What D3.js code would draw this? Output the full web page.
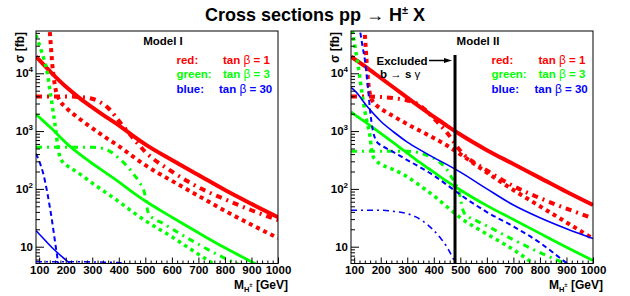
<!DOCTYPE html>
<html>
<head>
<meta charset="utf-8">
<script src="https://cdn.jsdelivr.net/npm/d3@7"></script>
<style>
  body { margin: 0; background: #fff; }
  svg { display: block; font-family: "Liberation Sans", Arial, Helvetica, sans-serif; }
</style>
</head>
<body>
<svg id="chart" width="630" height="296"></svg>
<script>
// masses in GeV, cross sections in fb
const massGrid = [88, 100, 150, 200, 250, 300, 350, 400, 450, 500, 600, 700, 800, 900, 1000];

// ---- Model I ----
const m1RedSolid   = [19500, 17000, 9770, 5890, 3800, 2570, 1780, 1260, 851, 589, 316, 174, 95.5, 55, 32.4];
const m1GreenSolid = [1950, 1740, 1072, 631, 407, 275, 191, 132, 89.1, 61.7, 32.4, 17.4, 9.55, 5.5, 3.24];
const m1BlueSolidMass = [88, 100, 150, 200, 250, 300];
const m1BlueSolid     = [19, 16.6, 9.5, 5.9, 3.8, 2.6];

const m1RedDotMass = [138, 142, 146, 150, 155, 160, 165, 170, 180, 200, 250, 300, 350, 400, 450, 500, 600, 700, 800, 900, 1000];
const m1RedDot     = [70800, 39800, 22400, 13200, 8320, 5890, 4570, 3980, 3240, 2570, 1660, 1120, 776, 550, 372, 257, 138, 75.9, 41.7, 24, 14.1];

const m1RedDashDotMass = [88, 150, 200, 250, 300, 330, 360, 400, 450, 500, 600, 700, 800, 900, 1000];
const m1RedDashDot     = [3980, 3980, 3980, 3890, 3630, 3160, 2510, 1510, 794, 437, 200, 107, 66, 42.7, 28.8];

const m1GreenDotMass = [88, 100, 110, 120, 130, 140, 150, 160, 165, 170, 175, 180, 190, 200, 250, 300, 350, 400, 450, 500, 600, 700, 800];
const m1GreenDot     = [45700, 31600, 22900, 16200, 10500, 5250, 2630, 1260, 832, 550, 407, 339, 288, 263, 186, 126, 87.1, 60.3, 40.7, 28.2, 14.8, 7.4, 3.8];

const m1GreenDashDotMass = [88, 200, 300, 340, 370, 400, 430, 460, 480, 495, 502, 508, 515, 530, 560, 600, 700, 800, 900];
const m1GreenDashDot     = [525, 525, 525, 501, 437, 339, 251, 170, 126, 91.2, 66.1, 43.7, 35.5, 30.9, 26.3, 20.4, 11, 6.3, 4];

const m1BlueDashMass = [88, 100, 115, 130, 140, 150, 160, 172, 185];
const m1BlueDash     = [407, 302, 186, 89, 49, 25.1, 12, 5.13, 2.24];

const m1BlueDashDotMass = [88, 200, 300, 400, 430, 460];
const m1BlueDashDot     = [5.5, 5.5, 5.45, 5.3, 4.8, 4];

// ---- Model II ----
const m2RedSolid   = [19500, 17800, 12300, 8300, 5620, 3800, 2570, 1780, 1230, 871, 468, 269, 155, 89, 52.5];
const m2GreenSolid = [2140, 1950, 1350, 912, 617, 417, 282, 195, 135, 95.5, 51.3, 29.5, 17, 9.8, 5.75];
const m2BlueSolid  = [5620, 5130, 2630, 1480, 955, 646, 468, 347, 263, 195, 100, 52.5, 31.6, 20.4, 13.8];

const m2RedDotMass = [138, 142, 146, 150, 155, 160, 165, 170, 180, 200, 250, 300, 350, 400, 450, 500, 600, 700, 800, 900, 1000];
const m2RedDot     = [63100, 35500, 18200, 10000, 5750, 4270, 3630, 3240, 2880, 2450, 1780, 1320, 1000, 759, 562, 398, 191, 95.5, 50.1, 26.3, 13.8];

const m2RedDashDotMass = [88, 150, 200, 250, 300, 330, 360, 400, 450, 500, 600, 700, 800, 900, 1000];
const m2RedDashDot     = [3980, 3980, 3890, 3720, 3390, 3090, 2510, 1660, 933, 457, 209, 112, 69.2, 45.7, 30.9];

const m2GreenDotMass = [88, 100, 110, 120, 130, 140, 150, 160, 165, 170, 180, 200, 250, 300, 350, 400, 450, 500, 600, 700, 800];
const m2GreenDot     = [75900, 35500, 18600, 9330, 4370, 2240, 1320, 794, 501, 380, 316, 269, 214, 162, 112, 75.9, 49, 31.6, 16.6, 8.9, 4.17];

const m2GreenDashDotMass = [88, 200, 300, 340, 380, 420, 450, 470, 485, 495, 502, 508, 515, 530, 560, 600, 700, 800, 900];
const m2GreenDashDot     = [447, 447, 447, 427, 372, 295, 214, 151, 115, 91.2, 63.1, 45.7, 38, 33.1, 28.2, 22.9, 13.2, 7.9, 5];

const m2BlueDashMass = [118, 125, 132, 140, 150, 160, 170, 180, 190, 200, 250, 300, 350, 400, 450, 500, 600, 700, 800, 900, 1000];
const m2BlueDash     = [70800, 44700, 28200, 17400, 7080, 2240, 1050, 724, 617, 575, 427, 316, 234, 170, 117, 79.4, 39.8, 22.4, 11.7, 5.25, 2.51];

const m2BlueDashDotMass = [88, 200, 250, 300, 330, 360, 400, 430, 450, 470, 485, 500];
const m2BlueDashDot     = [42.7, 42.7, 40.7, 37.2, 33.1, 27.5, 19.1, 13.2, 9.8, 6.6, 4.8, 3.2];

const xMajorTicks = [100, 200, 300, 400, 500, 600, 700, 800, 900, 1000];
const yMajorTicks = [10, 100, 1000, 10000];
const yTickExp = ["", "2", "3", "4"];
const bsgLimit = 480;

const lineStyles = {
  redSolid:      { stroke: "#ff0000", width: 4,   dash: null },
  redDot:        { stroke: "#ff0000", width: 4,   dash: "4,4" },
  redDashDot:    { stroke: "#ff0000", width: 4,   dash: "6,5,2,5" },
  greenSolid:    { stroke: "#00ff00", width: 2.8, dash: null },
  greenDot:      { stroke: "#00ff00", width: 3.5, dash: "3.5,4" },
  greenDashDot:  { stroke: "#00ff00", width: 3,   dash: "6,5,2,5" },
  blueSolid:     { stroke: "#0000ff", width: 1.6, dash: null },
  blueDash:      { stroke: "#0000ff", width: 2,   dash: "5,3.5" },
  blueDashDot:   { stroke: "#0000ff", width: 1.6, dash: "6,4,2,4" }
};

const zip = (ms, vs) => ms.map((m, i) => [m, vs[i]]);

const panels = [
  {
    left: 36, title: "Model I", titleX: 163, legendX: 176.5, tanX: 223,
    curves: [
      ["redSolid", zip(massGrid, m1RedSolid)],
      ["redDot", zip(m1RedDotMass, m1RedDot)],
      ["redDashDot", zip(m1RedDashDotMass, m1RedDashDot)],
      ["greenSolid", zip(massGrid, m1GreenSolid)],
      ["greenDot", zip(m1GreenDotMass, m1GreenDot)],
      ["greenDashDot", zip(m1GreenDashDotMass, m1GreenDashDot)],
      ["blueSolid", zip(m1BlueSolidMass, m1BlueSolid)],
      ["blueDash", zip(m1BlueDashMass, m1BlueDash)],
      ["blueDashDot", zip(m1BlueDashDotMass, m1BlueDashDot)]
    ]
  },
  {
    left: 351, title: "Model II", titleX: 478, legendX: 491.5, tanX: 538.5,
    curves: [
      ["redSolid", zip(massGrid, m2RedSolid)],
      ["redDot", zip(m2RedDotMass, m2RedDot)],
      ["redDashDot", zip(m2RedDashDotMass, m2RedDashDot)],
      ["greenSolid", zip(massGrid, m2GreenSolid)],
      ["greenDot", zip(m2GreenDotMass, m2GreenDot)],
      ["greenDashDot", zip(m2GreenDashDotMass, m2GreenDashDot)],
      ["blueSolid", zip(massGrid, m2BlueSolid)],
      ["blueDash", zip(m2BlueDashMass, m2BlueDash)],
      ["blueDashDot", zip(m2BlueDashDotMass, m2BlueDashDot)]
    ],
    excluded: true
  }
];

const W = 242, H = 232.5, TOP = 31;
const svg = d3.select("#chart");

const x = d3.scaleLinear().domain([88, 1000]).range([0, W]);
const y = d3.scaleLog().domain([5.12, 53900]).range([H, 0]);

const line = d3.line()
  .x(d => x(d[0]))
  .y(d => y(d[1]))
  .curve(d3.curveMonotoneX);

// title
const title = svg.append("text")
  .attr("x", 315).attr("y", 20.5)
  .attr("text-anchor", "middle")
  .attr("font-size", 18).attr("font-weight", "bold");
title.append("tspan").text("Cross sections pp ");
title.append("tspan").attr("font-weight", "normal").text("\u2192");
title.append("tspan").text(" H");
title.append("tspan").attr("font-size", 11).attr("dy", -7).text("\u00b1");
title.append("tspan").attr("dy", 7).text(" X");

const yMinor = [];
[1, 10, 100, 1000, 10000].forEach(p => {
  for (let k = 2; k <= 9; k++) {
    const v = k * p;
    if (v > 5.12 && v < 53900) yMinor.push(v);
  }
});
const xMinor = d3.range(120, 1000, 20).filter(v => v % 100 !== 0);

const legendRows = [
  { name: "red:", tan: "1", color: "#ff0000", y: 64 },
  { name: "green:", tan: "3", color: "#00ff00", y: 77.5 },
  { name: "blue:", tan: "30", color: "#0000ff", y: 92.5 }
];

panels.forEach((p, i) => {
  const g = svg.append("g").attr("transform", `translate(${p.left},${TOP})`);

  g.append("clipPath").attr("id", "clip" + i)
    .append("rect").attr("width", W).attr("height", H);

  const plot = g.append("g").attr("clip-path", `url(#clip${i})`);
  p.curves.forEach(([style, data]) => {
    const s = lineStyles[style];
    plot.append("path")
      .datum(data)
      .attr("d", line)
      .attr("fill", "none")
      .attr("stroke", s.stroke)
      .attr("stroke-width", s.width)
      .attr("stroke-dasharray", s.dash);
  });

  // axes, ticks pointing inward
  const xAxis = g.append("g").attr("transform", `translate(0,${H})`)
    .call(d3.axisBottom(x).tickValues(xMajorTicks).tickSize(-6).tickPadding(2.5).tickFormat(d3.format("d")));
  g.append("g").attr("transform", `translate(0,${H})`)
    .call(d3.axisBottom(x).tickValues(xMinor).tickSize(-3).tickFormat(""));
  g.append("g")
    .call(d3.axisLeft(y).tickValues(yMajorTicks).tickSize(-8).tickFormat(""));
  g.append("g")
    .call(d3.axisLeft(y).tickValues(yMinor).tickSize(-4).tickFormat(""));
  g.selectAll(".domain").remove();
  g.selectAll(".tick line").attr("stroke", "#000");
  xAxis.selectAll("text")
    .attr("font-size", 11.5).attr("font-weight", "bold").attr("fill", "#000")
    .attr("font-family", "Liberation Sans, Arial, sans-serif");

  yMajorTicks.forEach((v, k) => {
    const t = g.append("text")
      .attr("x", -3).attr("y", y(v) + 4)
      .attr("text-anchor", "end")
      .attr("font-size", 11.5).attr("font-weight", "bold");
    t.append("tspan").text("10");
    if (yTickExp[k]) t.append("tspan").attr("font-size", 8).attr("dy", -5).text(yTickExp[k]);
  });

  g.append("rect").attr("width", W).attr("height", H)
    .attr("fill", "none").attr("stroke", "#000").attr("stroke-width", 1);

  // axis titles
  svg.append("text")
    .attr("transform", `translate(${p.left - 12},${TOP + 1}) rotate(-90)`)
    .attr("text-anchor", "end")
    .attr("font-size", 12).attr("font-weight", "bold")
    .text("\u03c3 [fb]");
  const xt = svg.append("text")
    .attr("x", p.left + W + 10).attr("y", 289)
    .attr("text-anchor", "end")
    .attr("font-size", 12).attr("font-weight", "bold");
  xt.append("tspan").text("M");
  xt.append("tspan").attr("font-size", 7.5).attr("dy", 3).text("H");
  xt.append("tspan").attr("font-size", 6).attr("dy", -5).text("\u00b1");
  xt.append("tspan").attr("dy", 2).text(" [GeV]");

  // legend
  svg.append("text")
    .attr("x", p.titleX).attr("y", 44.5)
    .attr("text-anchor", "middle")
    .attr("font-size", 11.5).attr("font-weight", "bold")
    .text(p.title);
  legendRows.forEach(r => {
    svg.append("text")
      .attr("x", p.legendX).attr("y", r.y)
      .attr("fill", r.color).attr("font-size", 11.5).attr("font-weight", "bold")
      .text(r.name);
    const t = svg.append("text")
      .attr("x", p.tanX + (r.tan.length > 1 ? -4 : 0)).attr("y", r.y)
      .attr("fill", r.color).attr("font-size", 11.5).attr("font-weight", "bold");
    t.append("tspan").text("tan ");
    t.append("tspan").attr("font-weight", "normal").attr("font-size", 12).text("\u03b2");
    t.append("tspan").text(" = " + r.tan);
  });

  if (p.excluded) {
    const lx = x(bsgLimit);
    g.append("line")
      .attr("x1", lx).attr("x2", lx)
      .attr("y1", 24).attr("y2", H)
      .attr("stroke", "#000").attr("stroke-width", 3);
    g.append("line")
      .attr("x1", 78).attr("x2", lx - 8)
      .attr("y1", 29.5).attr("y2", 29.5)
      .attr("stroke", "#000").attr("stroke-width", 1.5);
    g.append("path")
      .attr("d", `M${lx - 11},27 L${lx - 3},29.5 L${lx - 11},32 Z`)
      .attr("fill", "#000");
    g.append("text")
      .attr("x", 25.5).attr("y", 33.5)
      .attr("font-size", 11.5).attr("font-weight", "bold")
      .text("Excluded");
    const b = g.append("text")
      .attr("x", 29).attr("y", 47)
      .attr("font-size", 11.5).attr("font-weight", "bold");
    b.append("tspan").text("b ");
    b.append("tspan").attr("font-weight", "normal").text("\u2192");
    b.append("tspan").text(" s ");
    b.append("tspan").attr("font-weight", "normal").text("\u03b3");
  }
});
</script>
</body>
</html>
